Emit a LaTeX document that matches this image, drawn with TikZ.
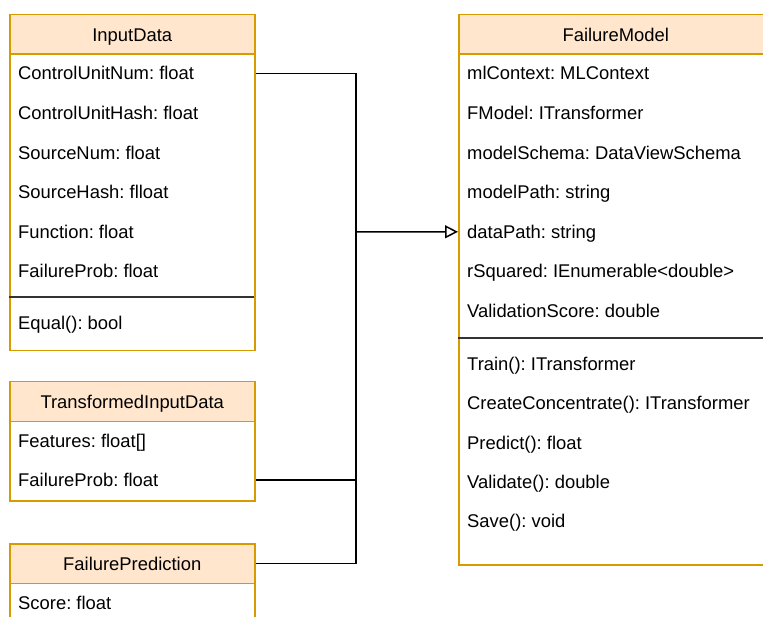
\documentclass[tikz,border=0pt]{standalone}
\usepackage{fontspec}
\setmainfont{Liberation Sans}
\usepackage{tikz}
\usetikzlibrary{arrows.meta}
\frenchspacing

\definecolor{umlline}{HTML}{D79B00}
\definecolor{umlfill}{HTML}{FFE6CC}

\tikzset{
  classhead/.style={draw=umlline, fill=umlfill, line width=1.5pt, minimum height=39.5pt,
    inner sep=0pt, anchor=north west, text height=13.2pt, text depth=0pt},
  classbody/.style={draw=umlline, fill=white, line width=1.5pt, inner sep=0pt, anchor=north west},
  member/.style={anchor=west, inner sep=0pt, text height=13.2pt, text depth=0pt},
  divider/.style={line width=1.5pt, black!80},
  link/.style={line width=1.5pt, black},
}

\begin{document}
\begin{tikzpicture}[x=1pt,y=-1pt,font=\fontsize{18.4}{22}\selectfont]
% Canvas
\useasboundingbox (0,0) rectangle (763,617);
\clip (0,0) rectangle (763,617);

% InputData
\node[classbody, minimum width=245, minimum height=297] (inbody) at (9,53) {};
\node[classhead, minimum width=245] (inhead) at (9,14) {InputData};
\foreach \txt [count=\k] in {ControlUnitNum: float, ControlUnitHash: float, SourceNum: float,
  SourceHash: flloat, Function: float, FailureProb: float} {
  \node[member] (in\k) at (18,33.8+39.6*\k) {\txt};
}
\draw[divider] (9,297) -- (254,297);
\node[member] (inm1) at (18,323) {Equal(): bool};

% TransformedInputData
\node[classbody, minimum width=245, minimum height=80] (tibody) at (9,420) {};
\node[classhead, minimum width=245] (tihead) at (9,381) {TransformedInputData};
\node[member] (ti1) at (18,441) {Features: float[]};
\node[member] (ti2) at (18,480) {FailureProb: float};

% FailurePrediction
\node[classbody, minimum width=245, minimum height=80] (fpbody) at (9,582) {};
\node[classhead, minimum width=245] (fphead) at (9,543) {FailurePrediction};
\node[member] (fp1) at (18,603) {Score: float};

% FailureModel
\node[classbody, minimum width=314, minimum height=511] (fmbody) at (458,53) {};
\node[classhead, minimum width=314] (fmhead) at (458,14) {FailureModel};
\foreach \txt [count=\k] in {mlContext: MLContext, FModel: ITransformer,
  modelSchema: DataViewSchema, modelPath: string, dataPath: string,
  rSquared: IEnumerable<double>, ValidationScore: double} {
  \node[member] (fm\k) at (467,33.8+39.6*\k) {\txt};
}
\draw[divider] (458,338) -- (772,338);
\foreach \txt [count=\k] in {Train(): ITransformer, CreateConcentrate(): ITransformer,
  Predict(): float, Validate(): double, Save(): void} {
  \node[member] (fmm\k) at (467,324.7+39.3*\k) {\txt};
}

% Links
\coordinate (bus) at (356,231.8);
\draw[link] (in1 -| inbody.east) -| (bus);
\draw[link] (ti2 -| tibody.east) -| (bus);
\draw[link] (fphead.east) -| (bus);
\draw[link, -{Triangle[open, length=13pt, width=13pt]}] (bus) -- (fm5 -| fmbody.west);

\end{tikzpicture}
\end{document}
